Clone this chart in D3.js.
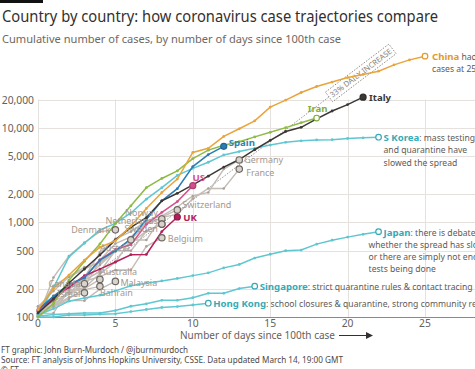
<!DOCTYPE html>
<html>
<head>
<meta charset="utf-8">
<script src="https://cdn.jsdelivr.net/npm/d3@7"></script>
<style>
  body { margin: 0; background: #fff; }
  svg { display: block; font-family: "Noto Sans", sans-serif; }
</style>
</head>
<body>
<div id="wrapper"></div>
<script>
// Cumulative cases, one value per day since the 100th case (index = day)
const china = [120, 200, 278, 400, 547, 639, 920, 1406, 2075, 2877, 5509, 6087, 8141, 9802, 11891, 16630, 19716, 23707, 27440, 30587, 34110, 36814, 39829, 46500, 52500, 57500]
const italy = [110, 155, 229, 322, 453, 655, 888, 1128, 1694, 2036, 2502, 3089, 3858, 4636, 5883, 7375, 9172, 10149, 12462, 15113, 17660, 21157]
const iran = [100, 139, 245, 388, 593, 978, 1501, 2336, 2922, 3513, 4747, 5823, 6566, 7161, 8042, 9000, 10075, 11364, 12729]
const sKorea = [104, 204, 433, 602, 833, 977, 1261, 1766, 2337, 3150, 3736, 4335, 5186, 5621, 6088, 6593, 7041, 7314, 7478, 7513, 7755, 7869, 7979]
const spain = [120, 165, 222, 259, 400, 500, 673, 1073, 1695, 2277, 3900, 5232, 6391]
const us = [118, 149, 217, 262, 402, 518, 583, 959, 1281, 1663, 2450]
const uk = [115, 163, 206, 273, 321, 382, 456, 459, 802, 1143]
const japan = [105, 122, 147, 159, 170, 189, 214, 228, 241, 256, 274, 293, 331, 360, 420, 461, 502, 511, 590, 650, 700, 750, 800]
const singapore = [102, 106, 108, 110, 110, 117, 130, 138, 150, 150, 160, 178, 178, 200, 212]
const hongKong = [100, 100, 105, 105, 107, 108, 114, 120, 126, 129, 134, 140]

const germany = [130, 159, 196, 262, 482, 670, 799, 1040, 1176, 1457, 1908, 2078, 3675, 4585]
const france = [100, 130, 191, 204, 288, 380, 656, 957, 1134, 1217, 1792, 2289, 2289, 3672]
const switzerland = [114, 214, 268, 337, 374, 491, 652, 652, 1139, 1359]
const netherlands = [128, 188, 265, 321, 382, 503, 503, 804, 959]
const norway = [108, 147, 176, 205, 400, 598, 702, 996, 1090]
const sweden = [101, 161, 203, 248, 355, 500, 599, 814, 961]
const belgium = [109, 169, 200, 239, 267, 314, 314, 559, 689]
const denmark = [100, 262, 442, 615, 801, 836]
const austria = [104, 131, 182, 246, 302, 504, 655]
const australia = [107, 128, 156, 200, 250]
const malaysia = [117, 129, 149, 149, 197, 238]
const canada = [108, 138, 176, 225]
const israel = [109, 131, 161, 180]
const bahrain = [109, 110, 195, 195, 211]

const yTicks = [100, 200, 500, 1000, 2000, 5000, 10000, 20000]
const xTicks = [0, 5, 10, 15, 20, 25]
const dailyGrowth = 0.33

function drawChart() {
    const width = 475
    const height = 369
    const plot = { left: 38, top: 99.5, bottom: 317, right: 475 }

    const svg = d3.select("#wrapper")
        .append("svg")
            .attr("width", width)
            .attr("height", height)

    const xScale = d3.scaleLinear()
        .domain([0, 25])
        .range([plot.left, 425])
    const yScale = d3.scaleLog()
        .domain([100, 20000])
        .range([plot.bottom, plot.top])

    // header
    svg.append("rect").attr("x", 0).attr("y", 0).attr("width", 43).attr("height", 3).attr("fill", "#111")
    svg.append("text").attr("x", 2).attr("y", 22)
        .attr("font-size", 15.8).attr("fill", "#33302e")
        .attr("textLength", 436).attr("lengthAdjust", "spacingAndGlyphs")
        .text("Country by country: how coronavirus case trajectories compare")
    svg.append("text").attr("x", 2).attr("y", 43)
        .attr("font-size", 11.1).attr("fill", "#6e6862")
        .attr("textLength", 339).attr("lengthAdjust", "spacingAndGlyphs")
        .text("Cumulative number of cases, by number of days since 100th case")

    // grid
    const grid = svg.append("g").attr("stroke", "#e4e1de").attr("stroke-width", 1)
    grid.selectAll("line.h").data(yTicks).join("line")
        .attr("x1", plot.left).attr("x2", plot.right)
        .attr("y1", d => Math.round(yScale(d)) + 0.5).attr("y2", d => Math.round(yScale(d)) + 0.5)
    grid.selectAll("line.v").data(xTicks).join("line")
        .attr("x1", d => Math.round(xScale(d)) + 0.5).attr("x2", d => Math.round(xScale(d)) + 0.5)
        .attr("y1", plot.top).attr("y2", plot.bottom)

    svg.append("g").selectAll("text").data(yTicks).join("text")
        .attr("x", 34).attr("y", d => yScale(d) + 4)
        .attr("text-anchor", "end").attr("font-size", 10.3).attr("fill", "#66605c")
        .text(d3.format(","))

    svg.append("line")
        .attr("x1", plot.left).attr("x2", plot.right)
        .attr("y1", plot.bottom + 0.5).attr("y2", plot.bottom + 0.5)
        .attr("stroke", "#8e8883")
    svg.append("g").selectAll("text").data(xTicks).join("text")
        .attr("x", d => xScale(d)).attr("y", 327)
        .attr("text-anchor", "middle").attr("font-size", 10.3).attr("fill", "#66605c")
        .text(d => d)

    svg.append("text").attr("x", 180).attr("y", 339)
        .attr("font-size", 10.2).attr("fill", "#66605c")
        .attr("textLength", 155).attr("lengthAdjust", "spacingAndGlyphs")
        .text("Number of days since 100th case")
    svg.append("line").attr("x1", 339).attr("x2", 368).attr("y1", 335.5).attr("y2", 335.5)
        .attr("stroke", "#33302e").attr("stroke-width", 1)
    svg.append("path").attr("d", "M366,332 L373,335.5 L366,339 Z").attr("fill", "#33302e")

    // footer
    svg.append("text").attr("x", 1).attr("y", 353).attr("font-size", 8.2).attr("fill", "#4d4845")
        .attr("textLength", 187).attr("lengthAdjust", "spacingAndGlyphs")
        .text("FT graphic: John Burn-Murdoch / @jburnmurdoch")
    svg.append("text").attr("x", 1).attr("y", 363).attr("font-size", 8.2).attr("fill", "#4d4845")
        .attr("textLength", 342).attr("lengthAdjust", "spacingAndGlyphs")
        .text("Source: FT analysis of Johns Hopkins University, CSSE. Data updated March 14, 19:00 GMT")
    svg.append("text").attr("x", 1).attr("y", 373).attr("font-size", 8.2).attr("fill", "#4d4845")
        .text("© FT")

    // 33% daily increase reference
    const growthAt = d => 100 * Math.pow(1 + dailyGrowth, d)
    const boxStart = 18.8, boxEnd = 22.9
    svg.append("line")
        .attr("x1", xScale(0)).attr("y1", yScale(growthAt(0)))
        .attr("x2", xScale(boxStart)).attr("y2", yScale(growthAt(boxStart)))
        .attr("stroke", "#8e8883").attr("stroke-width", 0.9).attr("stroke-dasharray", "1.5,1.5")
    const bx0 = xScale(boxStart), by0 = yScale(growthAt(boxStart))
    const bx1 = xScale(boxEnd), by1 = yScale(growthAt(boxEnd))
    const angle = Math.atan2(by1 - by0, bx1 - bx0) * 180 / Math.PI
    const len = Math.hypot(bx1 - bx0, by1 - by0)
    const band = svg.append("g")
        .attr("transform", `translate(${bx0},${by0}) rotate(${angle})`)
    band.append("rect").attr("x", 0).attr("y", -6).attr("width", len).attr("height", 12)
        .attr("fill", "#fff").attr("fill-opacity", 0.6)
        .attr("stroke", "#8e8883").attr("stroke-width", 0.9).attr("stroke-dasharray", "1.5,1.5")
    band.append("text").attr("x", len / 2).attr("y", 2.8)
        .attr("text-anchor", "middle").attr("font-size", 7.6).attr("fill", "#857e78")
        .text("33% DAILY INCREASE")

    const lineGenerator = d3.line()
        .x((d, i) => xScale(i))
        .y(d => yScale(d))

    const greyLine = "#c4bcb5"
    const greyLabel = "#a39890"
    const cyan = "#5ec7d1"
    const cyanLabel = "#35aab6"
    const noteColor = "#5f5a55"

    const greyCountries = [
        { name: "Germany", data: germany, dx: 5, dy: 3, anchor: "start" },
        { name: "France", data: france, dx: 7, dy: 7, anchor: "start" },
        { name: "Switzerland", data: switzerland, dx: 5, dy: -2, anchor: "start" },
        { name: "Norway", data: norway, dx: -4, dy: -3, anchor: "end" },
        { name: "Netherlands", data: netherlands, dx: -4, dy: 0, anchor: "end" },
        { name: "Sweden", data: sweden, dx: -4, dy: 8, anchor: "end" },
        { name: "Belgium", data: belgium, dx: 6, dy: 4, anchor: "start" },
        { name: "Denmark", data: denmark, dx: -5, dy: 3, anchor: "end" },
        { name: "Austria", data: austria, dx: -16, dy: 11, anchor: "middle" },
        { name: "Australia", data: australia, dx: 0, dy: -4, anchor: "start" },
        { name: "Malaysia", data: malaysia, dx: 5, dy: 5, anchor: "start" },
        { name: "Canada", data: canada, dx: -4, dy: 3, anchor: "end" },
        { name: "Israel", data: israel, dx: -4, dy: 4, anchor: "end" },
        { name: "Bahrain", data: bahrain, dx: 0, dy: 10, anchor: "start" },
    ]

    const mainCountries = [
        { name: "Hong Kong", data: hongKong, color: cyan, label: cyanLabel, ring: true,
          dx: 5, dy: 4, note: [": school closures & quarantine, strong community response"] },
        { name: "Singapore", data: singapore, color: cyan, label: cyanLabel, ring: true,
          dx: 5, dy: 4, note: [": strict quarantine rules & contact tracing"] },
        { name: "Japan", data: japan, color: cyan, label: cyanLabel, ring: true,
          dx: 5, dy: 4, note: [": there is debate over", "whether the spread has slowed", "or there are simply not enough", "tests being done"], noteDx: -10 },
        { name: "S Korea", data: sKorea, color: cyan, label: cyanLabel, ring: true,
          dx: 5, dy: 4, note: [": mass testing", "and quarantine have", "slowed the spread"], noteDx: 5 },
        { name: "UK", data: uk, color: "#b3205a", label: "#b3205a", ring: false, dx: 6, dy: 4 },
        { name: "US", data: us, color: "#d5508b", label: "#d5508b", ring: false, dx: 6, dy: -5, anchor: "middle" },
        { name: "Spain", data: spain, color: "#2a7db3", label: "#2a84b3", ring: false, dx: 5, dy: 0 },
        { name: "Iran", data: iran, color: "#8dbb44", label: "#7fae38", ring: true, dx: 1, dy: -6, anchor: "middle" },
        { name: "Italy", data: italy, color: "#3b3735", label: "#3b3735", ring: false, dx: 6, dy: 4 },
        { name: "China", data: china, color: "#e9a43a", label: "#e39a2c", ring: true,
          dx: 7, dy: 4, note: [" had", "cases at 25 days"], noteDx: 7 },
    ]

    // grey countries
    const greyG = svg.append("g")
    greyCountries.forEach(c => {
        greyG.append("path").attr("d", lineGenerator(c.data))
            .attr("fill", "none").attr("stroke", greyLine).attr("stroke-width", 1.4)
        greyG.selectAll(null).data(c.data).join("circle")
            .attr("cx", (d, i) => xScale(i)).attr("cy", d => yScale(d))
            .attr("r", 1.3).attr("fill", "#aaa29b")
    })

    // highlighted countries
    const mainG = svg.append("g")
    mainCountries.forEach(c => {
        mainG.append("path").attr("d", lineGenerator(c.data))
            .attr("fill", "none").attr("stroke", c.color).attr("stroke-width", 1.5)
        mainG.selectAll(null).data(c.data).join("circle")
            .attr("cx", (d, i) => xScale(i)).attr("cy", d => yScale(d))
            .attr("r", 1.4).attr("fill", c.color)
    })

    // end markers + labels
    greyCountries.forEach(c => {
        const last = c.data.length - 1
        const ex = xScale(last), ey = yScale(c.data[last])
        svg.append("circle").attr("cx", ex).attr("cy", ey).attr("r", 3.2)
            .attr("fill", "#d9d3ce").attr("stroke", "#6d6661").attr("stroke-width", 1.2)
        svg.append("text").attr("x", ex + c.dx).attr("y", ey + c.dy)
            .attr("text-anchor", c.anchor).attr("font-size", 9).attr("fill", greyLabel)
            .text(c.name)
    })

    mainCountries.forEach(c => {
        const last = c.data.length - 1
        const ex = xScale(last), ey = yScale(c.data[last])
        svg.append("circle").attr("cx", ex).attr("cy", ey).attr("r", c.ring ? 2.8 : 3)
            .attr("fill", c.ring ? "#fff" : c.color)
            .attr("stroke", c.ring ? c.label : d3.color(c.color).darker(0.6))
            .attr("stroke-width", 1.2)
        const t = svg.append("text").attr("x", ex + c.dx).attr("y", ey + c.dy)
            .attr("text-anchor", c.anchor || "start")
        t.append("tspan").attr("font-size", 9.6).attr("font-weight", "bold").attr("fill", c.label)
            .text(c.name)
        if (c.note) {
            t.append("tspan").attr("font-size", 8.6).attr("fill", noteColor).text(c.note[0])
            c.note.slice(1).forEach((line, i) => {
                svg.append("text")
                    .attr("x", ex + (c.noteDx !== undefined ? c.noteDx : c.dx))
                    .attr("y", ey + c.dy + 12.2 * (i + 1))
                    .attr("font-size", 8.6).attr("fill", noteColor)
                    .text(line)
            })
        }
    })
}

drawChart()
</script>
</body>
</html>
